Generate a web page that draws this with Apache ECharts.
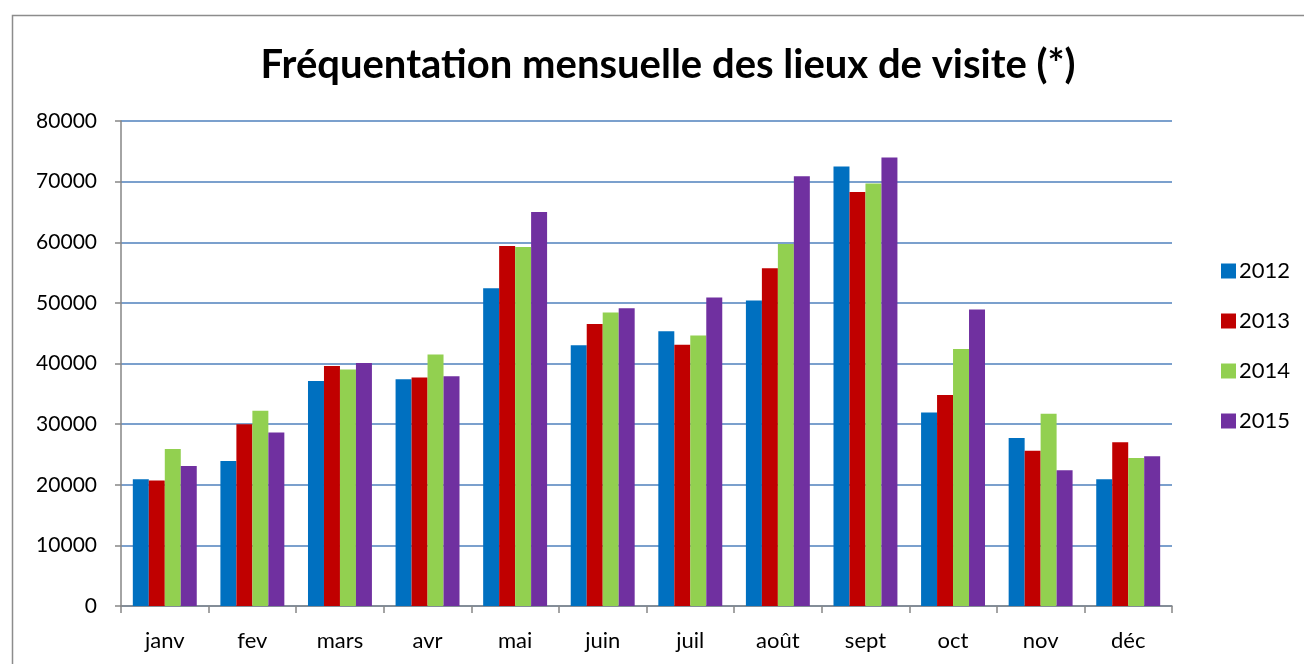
<!DOCTYPE html>
<html>
<head>
<meta charset="utf-8">
<script src="https://cdn.jsdelivr.net/npm/echarts@6/dist/echarts.min.js"></script>
<style>
  html, body { margin: 0; padding: 0; background: #fff; }
  #chart { width: 1304px; height: 664px; }
</style>
</head>
<body>
<div id="chart"></div>
<script>
const months = ['janv', 'fev', 'mars', 'avr', 'mai', 'juin', 'juil', 'août', 'sept', 'oct', 'nov', 'déc']
const y2012 = [20900, 23900, 37100, 37400, 52400, 43000, 45300, 50400, 72500, 31900, 27700, 20900]
const y2013 = [20700, 30000, 39600, 37700, 59400, 46500, 43100, 55700, 68300, 34800, 25600, 27000]
const y2014 = [25900, 32200, 39000, 41500, 59200, 48400, 44600, 59700, 69700, 42400, 31700, 24400]
const y2015 = [23100, 28600, 40100, 37900, 65000, 49100, 50900, 70900, 74000, 48900, 22400, 24700]
const colors = ['#0070C0', '#C00000', '#92D050', '#7030A0']

const chart = echarts.init(document.getElementById('chart'), null, { renderer: 'canvas' })

const mkSeries = (name, data) => ({
  name,
  type: 'bar',
  data,
  barGap: '0%',
  barCategoryGap: '27%',
  itemStyle: { borderWidth: 0 },
})

chart.setOption({
  animation: false,
  backgroundColor: '#fff',
  color: colors,
  textStyle: { fontFamily: 'Lato, sans-serif', color: '#000' },
  title: {
    text: 'Fréquentation mensuelle des lieux de visite (*)',
    left: 663,
    top: 40,
    textAlign: 'center',
    textStyle: { fontSize: 40, fontWeight: 'bold', color: '#000', fontFamily: 'Lato, sans-serif' },
  },
  graphic: [{
    type: 'rect',
    shape: { x: 12.5, y: 15.5, width: 1320, height: 700 },
    style: { fill: 'none', stroke: '#8c8c8c', lineWidth: 1.5 },
    silent: true,
  }],
  legend: {
    orient: 'vertical',
    left: 1216,
    top: 255,
    itemWidth: 15,
    itemHeight: 15,
    itemGap: 28,
    icon: 'rect',
    textStyle: { fontSize: 22, color: '#000', padding: [0, 0, 0, -2] },
  },
  grid: { left: 121, right: 132, top: 121, bottom: 58, containLabel: false },
  xAxis: {
    type: 'category',
    data: months,
    axisLine: { lineStyle: { color: '#868686', width: 1.5 } },
    axisTick: { show: true, length: 7, lineStyle: { color: '#868686', width: 1.5 } },
    axisLabel: { fontSize: 22, color: '#000', margin: 24 },
  },
  yAxis: {
    type: 'value',
    min: 0,
    max: 80000,
    interval: 10000,
    axisLine: { show: true, lineStyle: { color: '#868686', width: 1.5 } },
    axisTick: { show: true, length: 6, lineStyle: { color: '#868686', width: 1.5 } },
    axisLabel: { fontSize: 21, color: '#000', margin: 24, formatter: (v) => String(v) },
    splitLine: { lineStyle: { color: '#4F81BD', width: 1.5 } },
  },
  series: [
    mkSeries('2012', y2012),
    mkSeries('2013', y2013),
    mkSeries('2014', y2014),
    mkSeries('2015', y2015),
  ],
})
</script>
</body>
</html>
